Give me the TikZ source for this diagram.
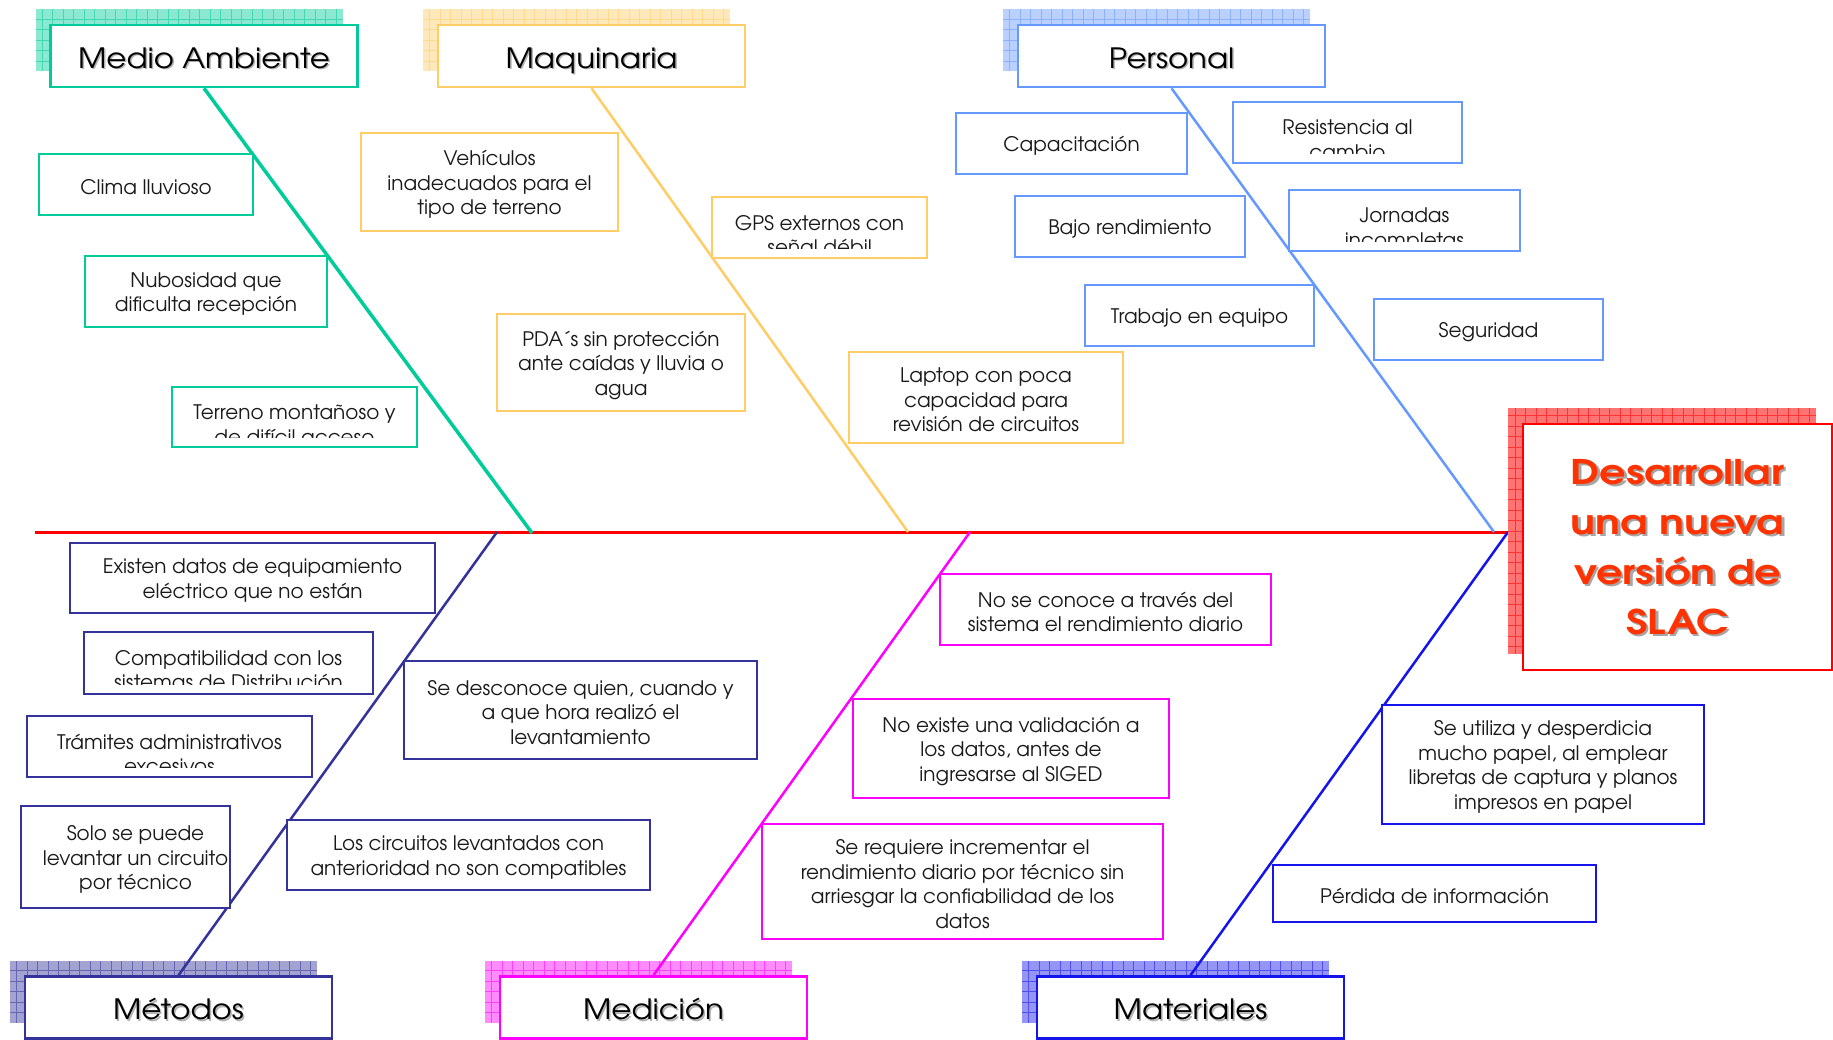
\documentclass[tikz,border=0pt]{standalone}
\usepackage{fontspec}
\setmainfont{texgyreadventor}[Extension=.otf,UprightFont=*-regular,BoldFont=*-bold,ItalicFont=*-italic,BoldItalicFont=*-bolditalic]
\newfontfamily\titlefont{texgyreadventor}[Extension=.otf,UprightFont=*-regular,FakeStretch=1.1]
\newfontfamily\effectfont{texgyreadventor}[Extension=.otf,UprightFont=*-bold,FakeStretch=1.22]
\definecolor{cMA}{RGB}{0,204,153}
\definecolor{cMQ}{RGB}{255,204,102}
\definecolor{cPE}{RGB}{102,153,255}
\definecolor{cME}{RGB}{51,51,153}
\definecolor{cMD}{RGB}{255,0,255}
\definecolor{cMT}{RGB}{20,20,235}
\definecolor{cRD}{RGB}{255,0,0}
\definecolor{cEF}{RGB}{255,51,0}
\tikzset{
  gridshadow/.style n args={3}{fill=#1!#2, draw=none, inner sep=0pt,
    minimum width=307pt, minimum height=62pt,
    path picture={\draw[#1!#3, line width=0.7pt] (path picture bounding box.south west) grid[step=10.5pt] (path picture bounding box.north east);}},
  titlebox/.style={draw=#1, line width=2.5pt, fill=white, inner sep=0pt,
    minimum width=307pt, minimum height=62pt, font=\titlefont\fontsize{28}{34}\selectfont, text=black,
    text height=28pt, text depth=4pt},
  cause/.style={draw=#1, line width=2pt, fill=white, inner sep=0pt},
  innertext/.style={draw=none, fill=none, inner sep=0pt, minimum width=0pt, minimum height=0pt, align=center},
  causetext/.style={innertext, font=\fontsize{20}{24.5}\selectfont, text=black!90},
  bone/.style={draw=#1, line width=2.5pt},
}
\newcommand\mkcat[5]{% name, cx, cy, color, text
  \node[gridshadow={#4}{45}{75}] (#1s) at (#2-15,#3-16) {};
  \node[titlebox=#4, path picture={\node[innertext, font=\titlefont\fontsize{28}{34}\selectfont, text=black!30, text height=28pt, text depth=4pt] (#1ts) at ([shift={(1.5pt,-1.5pt)}]path picture bounding box.center) {#5};}] (#1) at (#2,#3) {#5};
}
\newcommand\mkshift[8]{% name, color, x1, y1, x2, y2, text xshift, text
  \pgfmathsetmacro\mkW{#5-#3}\pgfmathsetmacro\mkH{#6-#4}
  \node[cause=#2, minimum width=\mkW pt, minimum height=\mkH pt] (#1) at ({(#3+#5)/2},{(#4+#6)/2}) {};
  \node[causetext] (#1t) at ([xshift=#7pt, yshift=-2.5pt]#1.center) {#8};
}
\newcommand\mkcause[7]{\mkshift{#1}{#2}{#3}{#4}{#5}{#6}{0}{#7}}
\newcommand\mkclip[7]{% name, color, x1, y1, x2, y2, text (clipped at bottom)
  \pgfmathsetmacro\mkW{#5-#3}\pgfmathsetmacro\mkH{#6-#4}
  \node[cause=#2, minimum width=\mkW pt, minimum height=\mkH pt,
    path picture={\clip ([yshift=10pt]path picture bounding box.south west) rectangle (path picture bounding box.north east);
      \node[causetext, anchor=north] (#1t) at ([yshift=-17pt]path picture bounding box.north) {#7};}] (#1) at ({(#3+#5)/2},{(#4+#6)/2}) {};
}
\begin{document}
\begin{tikzpicture}[x=1pt,y=-1pt]
\useasboundingbox[fill=white] (0,0) rectangle (1833,1039);
% spine
\coordinate (tail) at (35,532);
\coordinate (head) at (1508,532);
\coordinate (jMA) at (532,533);
\coordinate (jMQ) at (908,532);
\coordinate (jPE) at (1494,532);
\coordinate (jME) at (497,532);
\coordinate (jMD) at (970,532);
\coordinate (jMT) at (1508,532);
\draw[cRD, line width=3pt] (tail) -- (head);
% category boxes
\mkcat{ma}{204}{56}{cMA}{Medio Ambiente}
\mkcat{mq}{591.5}{56}{cMQ}{Maquinaria}
\mkcat{pe}{1171.5}{56}{cPE}{Personal}
\mkcat{me}{178.5}{1007.5}{cME}{Métodos}
\mkcat{md}{653.5}{1007.5}{cMD}{Medición}
\mkcat{mt}{1190.5}{1007.5}{cMT}{Materiales}
% bones
\draw[bone=cMA, line width=3.5pt] (ma.south) -- (jMA);
\draw[bone=cMQ] (mq.south) -- (jMQ);
\draw[bone=cPE] (pe.south) -- (jPE);
\draw[bone=cME] (me.north) -- (jME);
\draw[bone=cMD] (md.north) -- (jMD);
\draw[bone=cMT] (mt.north) -- (jMT);
% Medio Ambiente causes
\mkcause{ma1}{cMA}{39}{154}{253}{215}{Clima lluvioso}
\mkcause{ma2}{cMA}{85}{256}{327}{327}{Nubosidad que\\dificulta recepción}
\mkclip{ma3}{cMA}{172}{387}{417}{447}{Terreno montañoso y\\de difícil acceso}
% Maquinaria causes
\mkcause{mq1}{cMQ}{361}{133}{618}{231}{Vehículos\\inadecuados para el\\tipo de terreno}
\mkclip{mq2}{cMQ}{712}{197}{927}{258}{GPS externos con\\señal débil}
\mkcause{mq3}{cMQ}{497}{314}{745}{411}{PDA´s sin protección\\ante caídas y lluvia o\\agua}
\mkcause{mq4}{cMQ}{849}{352}{1123}{443}{Laptop con poca\\capacidad para\\revisión de circuitos}
% Personal causes
\mkcause{pe1}{cPE}{956}{113}{1187}{174}{Capacitación}
\mkclip{pe2}{cPE}{1233}{102}{1462}{163}{Resistencia al\\cambio}
\mkcause{pe3}{cPE}{1015}{196}{1245}{257}{Bajo rendimiento}
\mkclip{pe4}{cPE}{1289}{190}{1520}{251}{Jornadas\\incompletas}
\mkcause{pe5}{cPE}{1085}{285}{1314}{346}{Trabajo en equipo}
\mkcause{pe6}{cPE}{1374}{299}{1603}{360}{Seguridad}
% Metodos causes
\mkcause{me1}{cME}{70}{543}{435}{613}{Existen datos de equipamiento\\eléctrico que no están}
\mkclip{me2}{cME}{84}{632}{373}{694}{Compatibilidad con los\\sistemas de Distribución}
\mkclip{me3}{cME}{27}{716}{312}{777}{Trámites administrativos\\excesivos}
\mkshift{me4}{cME}{21}{806}{230}{908}{10}{Solo se puede\\levantar un circuito\\por técnico}
\mkcause{me5}{cME}{404}{661}{757}{759}{Se desconoce quien, cuando y\\a que hora realizó el\\levantamiento}
\mkcause{me6}{cME}{287}{820}{650}{890}{Los circuitos levantados con\\anterioridad no son compatibles}
% Medicion causes
\mkcause{md1}{cMD}{940}{574}{1271}{645}{No se conoce a través del\\sistema el rendimiento diario}
\mkcause{md2}{cMD}{853}{699}{1169}{798}{No existe una validación a\\los datos, antes de\\ingresarse al SIGED}
\mkcause{md3}{cMD}{762}{824}{1163}{939}{Se requiere incrementar el\\rendimiento diario por técnico sin\\arriesgar la confiabilidad de los\\datos}
% Materiales causes
\mkcause{mt1}{cMT}{1382}{705}{1704}{824}{Se utiliza y desperdicia\\mucho papel, al emplear\\libretas de captura y planos\\impresos en papel}
\mkcause{mt2}{cMT}{1273}{865}{1596}{922}{Pérdida de información}
% effect
\node[gridshadow={cRD}{55}{80}, minimum width=308pt, minimum height=246pt] (effs) at (1662,531) {};
\node[draw=cRD, line width=2.5pt, fill=white, inner sep=0pt, minimum width=309pt, minimum height=246pt,
  align=center, font=\effectfont\fontsize{34}{50}\selectfont, text=cEF,
  path picture={\node[innertext, font=\effectfont\fontsize{34}{50}\selectfont, text=black!35] (efft) at ([shift={(2.5pt,-2.5pt)}]path picture bounding box.center) {Desarrollar\\una nueva\\versión de\\SLAC};}]
  (eff) at (1677.5,547) {Desarrollar\\una nueva\\versión de\\SLAC};
\end{tikzpicture}
\end{document}
